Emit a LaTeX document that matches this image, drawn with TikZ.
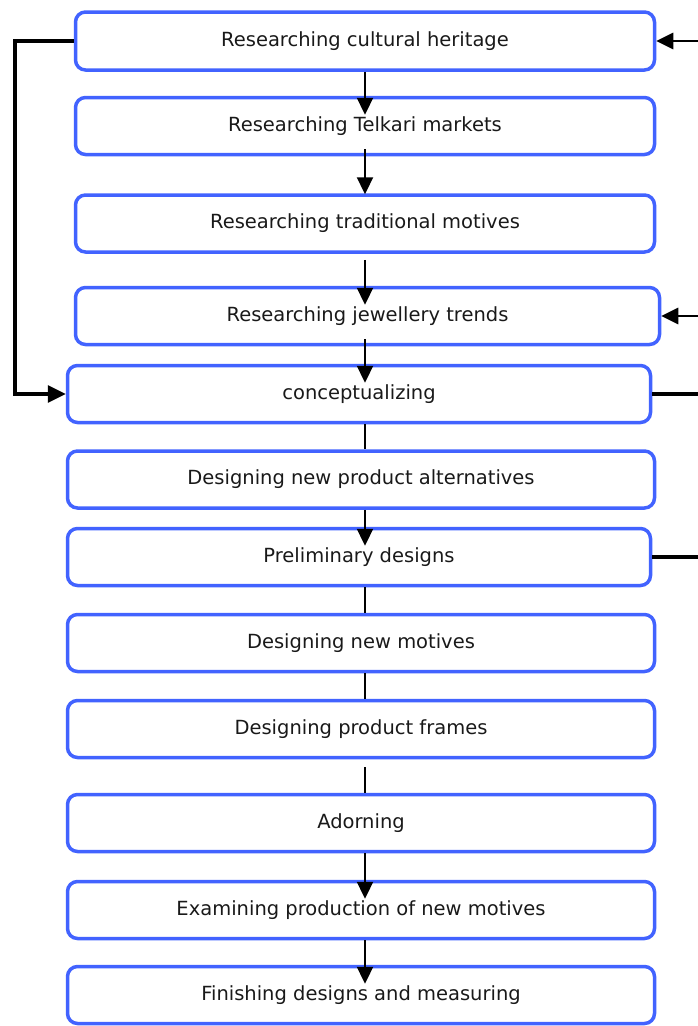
\documentclass[tikz,border=0pt]{standalone}
\usepackage{fontspec}
\setmainfont{DejaVu Sans}
\usetikzlibrary{positioning,arrows.meta}

\definecolor{boxblue}{RGB}{66,99,255}
\definecolor{inkgray}{RGB}{25,25,25}

\tikzset{
	stepbox/.style={draw=boxblue, line width=3.5pt, rounded corners=10pt,
		minimum height=57pt, minimum width=587pt, inner sep=0pt,
		font=\fontsize{19.5}{23}\selectfont, text=inkgray},
	flow/.style={line width=2.3pt, -{Triangle[length=17pt,width=16pt]}},
	link/.style={line width=2.3pt},
	backline/.style={line width=3.3pt},
	dip/.style={shorten >=-19pt},
}

\begin{document}
\begin{tikzpicture}[x=1pt, y=1pt]
	\useasboundingbox (0,0) rectangle (698,-1026);
	
	% 1. 研究阶段的四个框
	\node[stepbox, minimum width=579pt, minimum height=58pt] (b1) at (365,-41) {Researching cultural heritage};
	\node[stepbox, minimum width=579pt, below=24pt of b1] (b2) {Researching Telkari markets};
	\node[stepbox, minimum width=579pt, below=37pt of b2] (b3) {Researching traditional motives};
	\node[stepbox, minimum width=584pt, below=32pt of b3, xshift=2.5pt] (b4) {Researching jewellery trends};
	
	% 2. 构思与设计
	\node[stepbox, minimum width=583pt, below=17.5pt of b4, xshift=-8.5pt] (b5) {conceptualizing};
	\node[stepbox, below=25pt of b5, xshift=2pt] (b6) {Designing new product alternatives};
	\node[stepbox, minimum width=583pt, below=17pt of b6, xshift=-2pt] (b7) {Preliminary designs};
	\node[stepbox, below=25.5pt of b7, xshift=2pt] (b8) {Designing new motives};
	\node[stepbox, below=25.5pt of b8] (b9) {Designing product frames};
	
	% 3. 制作与收尾
	\node[stepbox, below=33.5pt of b9] (b10) {Adorning};
	\node[stepbox, below=26.5pt of b10] (b11) {Examining production of new motives};
	\node[stepbox, below=24.5pt of b11] (b12) {Finishing designs and measuring};
	
	% 中轴线和左右两侧的走线位置
	\coordinate (axis) at (365,0);
	\coordinate (lft) at (15,0);
	\coordinate (rgt) at (698,0);
	
	% 4. 中间的竖向连线 (箭头伸进下一个框里)
	\draw[flow, dip] (b1.south -| axis) -- (b2.north -| axis);
	\draw[flow, shorten <=-7pt, shorten >=-1pt] (b2.south -| axis) -- (b3.north -| axis);
	\draw[flow, dip, shorten <=6pt] (b3.south -| axis) -- (b4.north -| axis);
	\draw[flow, dip, shorten <=-7pt] (b4.south -| axis) -- (b5.north -| axis);
	\draw[link] (b5.south -| axis) -- (b6.north -| axis);
	\draw[flow, dip] (b6.south -| axis) -- (b7.north -| axis);
	\draw[link] (b7.south -| axis) -- (b8.north -| axis);
	\draw[link] (b8.south -| axis) -- (b9.north -| axis);
	\draw[link, shorten <=8pt] (b9.south -| axis) -- (b10.north -| axis);
	\draw[flow, dip] (b10.south -| axis) -- (b11.north -| axis);
	\draw[flow, dip] (b11.south -| axis) -- (b12.north -| axis);
	
	% 5. 左侧回路: 从第一个框回到 conceptualizing
	\draw[backline, -{Triangle[length=18pt,width=17pt]}] (b1.west) -- (b1.west -| lft) |- (b5.west);
	
	% 6. 右侧的进出线 (一直画到边上)
	\draw[flow, line width=2.8pt] (b1.east -| rgt) -- (b1.east);
	\draw[flow, line width=2.8pt] (b4.east -| rgt) -- (b4.east);
	\draw[backline] (b5.east) -- (b5.east -| rgt);
	\draw[backline] (b7.east) -- (b7.east -| rgt);
\end{tikzpicture}
\end{document}
